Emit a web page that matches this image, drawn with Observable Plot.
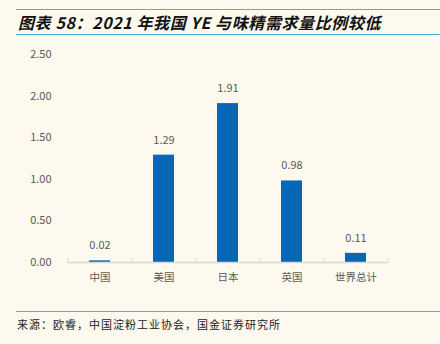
<!DOCTYPE html>
<html>
<head>
<meta charset="utf-8">
<script src="https://cdn.jsdelivr.net/npm/d3@7"></script>
<script src="https://cdn.jsdelivr.net/npm/@observablehq/plot@0.6"></script>
<style>
  html, body { margin: 0; padding: 0; background: #FDF9EE; }
  #page { position: relative; width: 440px; height: 344px; background: #FDF9EE; overflow: hidden; font-family: "Noto Sans CJK SC", "Noto Sans", sans-serif; }
  .rule { position: absolute; left: 16px; right: 0; height: 0; border-top: 1.5px solid #45B0E3; }
  #title { position: absolute; left: 18px; top: 11px; font-size: 16px; letter-spacing: 0.6px; font-weight: bold; font-style: italic; color: #111; white-space: nowrap; line-height: 22px; }
  #chart { position: absolute; left: 0; top: 36px; }
  #caption { position: absolute; left: 17px; top: 316px; font-size: 11px; color: #222; letter-spacing: 1px; white-space: nowrap; line-height: 16px; }
</style>
</head>
<body>
<div id="page">
  <div class="rule" style="top:9px"></div>
  <div id="title">图表 58：2021 年我国 YE 与味精需求量比例较低</div>
  <div class="rule" style="top:34px"></div>
  <div id="chart"></div>
  <div class="rule" style="top:311px"></div>
  <div id="caption">来源：欧睿，中国淀粉工业协会，国金证券研究所</div>
</div>
<script>
const categories = ["中国", "美国", "日本", "英国", "世界总计"];
const values = [0.02, 1.29, 1.91, 0.98, 0.11];
const yTicks = [0, 0.5, 1.0, 1.5, 2.0, 2.5];

const data = categories.map((c, i) => ({category: c, value: values[i]}));

const width = 440, height = 256;
const marginLeft = 67, marginRight = 52, marginTop = 18, marginBottom = 30;
const step = (width - marginLeft - marginRight) / categories.length;
const barColor = "#0766B5";
const textColor = "#595959";
const axisGray = "#D9D9D9";

const chart = Plot.plot({
  width, height, marginLeft, marginRight, marginTop, marginBottom,
  style: {background: "transparent", fontFamily: "\"Noto Sans CJK SC\", sans-serif", fontSize: "11px", color: textColor},
  x: {type: "band", domain: categories, paddingInner: 0.67, paddingOuter: 0.335, label: null},
  y: {domain: [0, 2.5], label: null},
  marks: [
    Plot.axisY({ticks: yTicks, tickSize: 0, tickPadding: 16, tickFormat: d3.format(".2f"), fill: textColor, fontSize: 11, style: "letter-spacing:0.8px"}),
    Plot.axisX({tickSize: 0, tickPadding: 11, fill: textColor, fontSize: 10.5, style: "letter-spacing:1.5px"}),
    Plot.barY(data, {x: "category", y: "value", fill: barColor}),
    Plot.ruleY([0], {stroke: axisGray, strokeWidth: 1.5}),
    Plot.ruleX(categories, {x: d => d, dx: -step / 2, y1: 0, y2: 0.05, stroke: axisGray}),
    Plot.ruleX(categories.slice(-1), {x: d => d, dx: step / 2, y1: 0, y2: 0.05, stroke: axisGray}),
    Plot.text(data, {x: "category", y: "value", text: d => d3.format(".2f")(d.value), dy: -15, fill: textColor, fontSize: 11, style: "letter-spacing:0.8px"})
  ]
});
document.getElementById("chart").appendChild(chart);
</script>
</body>
</html>
